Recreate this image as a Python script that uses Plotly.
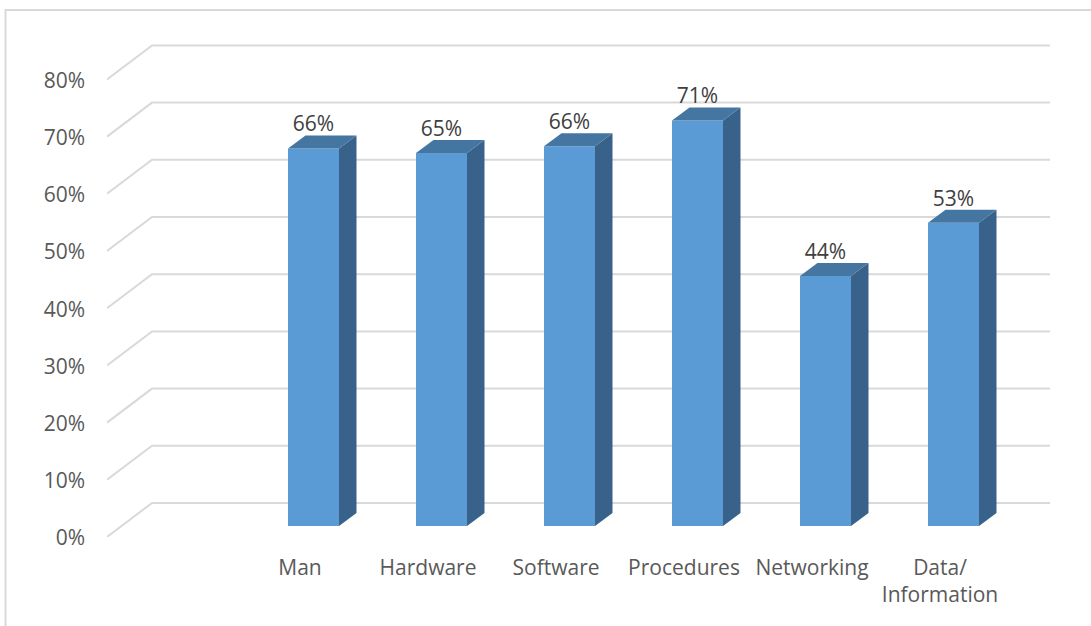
import plotly.graph_objects as go

categories = ["Man", "Hardware", "Software", "Procedures", "Networking", "Data/<br>Information"]
values = [66.0, 65.2, 66.4, 70.9, 43.7, 53.0]
labels = ["66%", "65%", "66%", "71%", "44%", "53%"]
y_ticks = [0, 10, 20, 30, 40, 50, 60, 70, 80]

W, H = 1091, 626
ML, MR, MT, MB = 107, 41, 40, 89
PX_X = 128.0
PX_Y = 5.72
X_LEFT = -193 / PX_X
X_RIGHT = X_LEFT + (W - ML - MR) / PX_X
Y_TOP = (H - MT - MB) / PX_Y

# oblique projection offsets, in axis units
bar_shift = 13.5 / PX_X
bar_half = 25.5 / PX_X
bar_base = 11 / PX_Y
bar_dx = 17.5 / PX_X
bar_dy = 13 / PX_Y
wall_dx = 45 / PX_X
wall_dy = 34 / PX_Y
label_drop = 1 / PX_Y

FRONT, SIDE, TOP = "#5B9BD5", "#38628A", "#4576A2"
GRID, AXIS_TEXT, VALUE_TEXT = "#D9D9D9", "#595959", "#404040"
FONT = "Open Sans"
FONT_SIZE = 21

positions = list(range(len(categories)))
centers = [p + bar_shift for p in positions]

fig = go.Figure()
fig.add_trace(go.Bar(x=centers, y=values, base=bar_base, width=2 * bar_half,
                     marker=dict(color=FRONT, line=dict(width=0)), hoverinfo="skip"))

for c, v in zip(centers, values):
    l, r = c - bar_half, c + bar_half
    t = bar_base + v
    fig.add_trace(go.Scatter(
        x=[r, r + bar_dx, r + bar_dx, r, r],
        y=[bar_base, bar_base + bar_dy, t + bar_dy, t, bar_base],
        mode="lines", fill="toself", fillcolor=SIDE, line=dict(width=0), hoverinfo="skip"))
    fig.add_trace(go.Scatter(
        x=[l, r, r + bar_dx, l + bar_dx, l],
        y=[t, t, t + bar_dy, t + bar_dy, t],
        mode="lines", fill="toself", fillcolor=TOP, line=dict(width=0), hoverinfo="skip"))

fig.add_trace(go.Scatter(
    x=centers, y=[bar_base + v + bar_dy - label_drop for v in values], text=labels,
    mode="text", textposition="top center",
    textfont=dict(family=FONT, size=FONT_SIZE, color=VALUE_TEXT), hoverinfo="skip"))

shapes = []
for v in y_ticks:
    shapes.append(dict(type="path", layer="below",
                       path=f"M {X_LEFT},{v} L {X_LEFT + wall_dx},{v + wall_dy} L {X_RIGHT},{v + wall_dy}",
                       line=dict(color=GRID, width=2), xref="x", yref="y"))

plot_w, plot_h = W - ML - MR, H - MT - MB
fx = lambda px: (px - ML) / plot_w
fy = lambda py: 1 - (py - MT) / plot_h
shapes.append(dict(type="path", layer="below", xref="paper", yref="paper",
                   path=f"M {fx(5.5)},{fy(626)} L {fx(5.5)},{fy(10)} L {fx(1091)},{fy(10)}",
                   line=dict(color=GRID, width=2)))

fig.update_layout(
    width=W, height=H, showlegend=False,
    margin=dict(l=ML, r=MR, t=MT, b=MB, pad=0),
    paper_bgcolor="white", plot_bgcolor="white", shapes=shapes,
    font=dict(family=FONT, size=FONT_SIZE, color=AXIS_TEXT),
    xaxis=dict(range=[X_LEFT, X_RIGHT], tickmode="array", tickvals=positions, ticktext=categories,
               showgrid=False, zeroline=False, showline=False, ticks="", ticklabelstandoff=16,
               tickangle=0),
    yaxis=dict(range=[0, Y_TOP], tickmode="array", tickvals=y_ticks,
               ticktext=[f"{v}%" for v in y_ticks], showgrid=False, zeroline=False,
               showline=False, ticks="", ticklabelstandoff=21, ticklabelshift=1),
)

fig.write_html("out.html", config={"displayModeBar": False},
               post_script="document.body.style.margin='0';")
